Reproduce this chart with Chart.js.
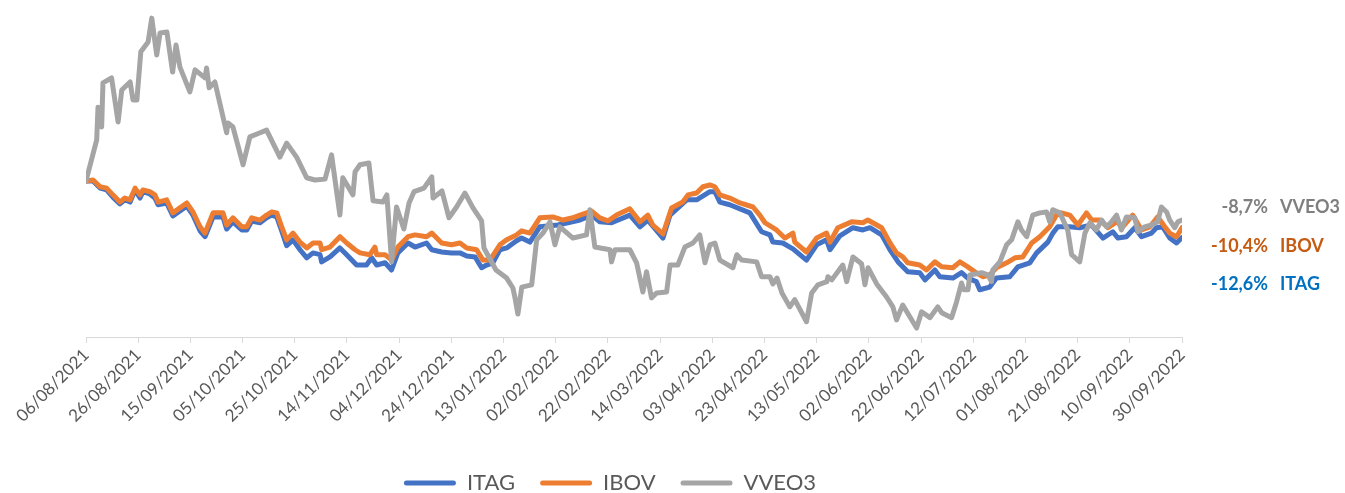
<!DOCTYPE html>
<html>
<head>
<meta charset="utf-8">
<script src="https://cdn.jsdelivr.net/npm/chart.js@4.4.1/dist/chart.umd.min.js"></script>
<style>
  html, body { margin: 0; padding: 0; background: #fff; }
  #wrap { width: 1345px; height: 493px; }
</style>
</head>
<body>
<div id="wrap"><canvas id="chart" width="1345" height="493"></canvas></div>
<script>
// x tick labels, one every 20 calendar days from 06/08/2021
const tickLabels = ["06/08/2021","26/08/2021","15/09/2021","05/10/2021","25/10/2021","14/11/2021",
  "04/12/2021","24/12/2021","13/01/2022","02/02/2022","22/02/2022","14/03/2022","03/04/2022",
  "23/04/2022","13/05/2022","02/06/2022","22/06/2022","12/07/2022","01/08/2022","21/08/2022",
  "10/09/2022","30/09/2022"];

const seriesNames = ["ITAG", "IBOV", "VVEO3"];

// accumulated return (%); days = calendar days since 06/08/2021
const itagDays = [0,2.7,5.4,7.9,10.3,13,14.9,16.9,18.8,20.7,21.8,24.5,26.4,27.6,30.9,33.3,36,38.6,41,43.7,45.6,48.7,52.5,53.9,56.3,59.7,61.6,63.5,66.7,69.2,71.2,73.1,75,76.9,79.3,82,84.6,87,89.7,90.3,93.5,97.3,99.9,103.7,107.5,109.5,111.4,114.6,117.1,119.5,123.4,126.1,130.5,132.5,136.3,140.1,143.3,145.9,149.1,151.6,153.5,155.9,158.6,161.2,165,166.9,170.1,173.9,180.8,189.3,193.8,196.9,201.4,208.4,212.3,215.3,221.1,223.8,230.2,234,239.1,241,242.9,246.7,254.4,258.9,262.1,263.2,267,270.9,276.1,280,283.8,285.1,288.9,293.9,297.7,300.4,304.9,308.1,311.2,314.9,319.5,321.5,325.3,327.2,332.2,335.5,337.9,341.2,342.5,346.3,348.9,354,357.1,361.7,364.3,368.6,370.5,372.4,377,380.8,385.3,389.7,393.5,395.4,398.7,401.9,404.5,408.3,410.2,412.6,415.3,417.9,420];
const itagVals = [0,0,-1.6,-2,-3.6,-5.1,-4.2,-4.7,-2,-3.8,-2.4,-2.9,-3.8,-5.3,-4.9,-7.8,-6.7,-5.6,-7.6,-11.1,-12.4,-8,-8,-10.7,-9.1,-10.9,-10.9,-8.9,-9.3,-8.2,-7.6,-8,-11.1,-14.4,-13.1,-15.3,-17.1,-16,-16.4,-18,-16.9,-14.9,-16.4,-18.7,-18.7,-17.1,-18.7,-18.2,-19.8,-16,-13.8,-14.7,-13.8,-15.3,-15.8,-16,-16,-16.7,-16.9,-19.3,-18.7,-18.2,-15.3,-14.9,-13.3,-12.7,-13.6,-10.2,-9.8,-8.7,-7.6,-9.1,-9.3,-7.6,-10.2,-8.7,-12.7,-7.6,-4.2,-4.2,-2.4,-2.4,-4.7,-5.3,-7.1,-11.3,-12,-13.6,-13.8,-15.1,-17.6,-14.2,-13.1,-15.3,-12.2,-10.4,-10.9,-10.4,-12,-15.3,-18,-20.2,-20.4,-22,-19.8,-21.3,-21.6,-20.4,-21.6,-22.4,-24.2,-23.6,-21.6,-21.3,-19.1,-18.2,-16,-13.6,-11.6,-10.2,-10.2,-10.4,-9.8,-12.7,-11.3,-12.7,-12.4,-10.4,-12.4,-11.6,-10.4,-10.2,-12.7,-13.8,-12.6];

const ibovDays = [0,2.7,5.4,7.9,10.3,13,14.9,16.9,18.8,20.7,21.8,24.5,26.4,27.6,30.9,33.3,36,38.6,41,43.7,45.6,48.7,52.5,53.9,56.3,59.7,61.6,63.5,66.7,69.2,71.2,73.1,75,76.9,79.3,82,84.6,87,89.7,90.3,93.5,97.3,99.9,103.1,105,108.8,110.7,111.4,114.6,117.1,119.5,123.4,126.1,130.5,132.5,136.3,140.1,143.3,145.9,149.7,152.1,154.8,158.6,161.2,165,166.9,170.1,173.9,178.9,182.8,186.6,189.3,193.8,196.9,200,203.3,208.4,212.3,215.3,217.2,221.1,224.4,228.7,230.7,234,236.4,239.1,241,242.9,246.7,250.6,255.6,258.2,260.2,264.6,267.8,270.9,271.6,276.1,280,283.8,285.1,288.1,293.4,297.7,299.6,304.9,308.1,310.6,313,314.9,319.5,322.1,325.3,327.9,332.2,334.9,337.9,340.6,343.7,346.3,348.9,352.8,356,359,362.4,365.5,369.3,371.9,373.8,377,380.1,383.4,385.4,388.5,391.6,394.9,397.3,401.1,404.5,407.7,410.7,413.4,415.3,417.9,420];
const ibovVals = [0,0.2,-1.3,-1.6,-3.1,-4.7,-3.8,-4.2,-1.6,-3.1,-2,-2.4,-3.1,-4.7,-4.2,-7.1,-6,-4.9,-6.9,-10.2,-11.6,-7.1,-7.1,-9.8,-8.2,-10.2,-10.2,-8.2,-8.7,-7.6,-6.9,-7.1,-10.2,-13.1,-11.6,-13.6,-14.9,-13.8,-13.8,-15.3,-14.7,-12.4,-13.8,-15.3,-16,-16.4,-14.7,-16.4,-16.4,-17.6,-14.7,-12.4,-12,-12.4,-11.6,-13.8,-14.2,-13.8,-14.9,-15.3,-17.6,-17.6,-14.2,-13.1,-12,-11.1,-11.6,-8.2,-8,-8.7,-8.2,-7.6,-6.7,-8.2,-8.9,-7.6,-6.2,-9.1,-7.6,-9.8,-11.8,-6,-4.7,-3.1,-2.7,-1.3,-0.9,-1.3,-3.1,-3.8,-4.9,-5.8,-7.6,-9.3,-10.9,-12.7,-11.6,-13.6,-15.8,-12.7,-11.6,-13.6,-10.4,-9.1,-9.3,-8.7,-10.4,-13.8,-16,-16.9,-18.2,-18.7,-19.8,-18,-19.1,-19.3,-18,-19.1,-20.2,-21.3,-20.9,-19.3,-18.2,-17.1,-16.9,-13.8,-12.4,-10.2,-7.6,-7.1,-7.6,-9.8,-7.1,-8.7,-8.7,-10.4,-9.1,-10.2,-7.6,-10.9,-10.2,-8,-10.2,-11.6,-12.4,-10.4];

const vveoDays = [0,4.1,4.6,6,6.5,9.8,12.3,13.7,16.9,18,19.5,21,23.8,25.2,27.1,28.4,31,33.2,34.5,36,39.8,41.8,45.6,46.2,47.2,49.4,53.9,54.4,56.3,60.2,62.8,66.7,69.2,74.3,76.9,80.7,84.6,87.7,91.6,94.1,97.3,98.4,102.3,103.1,105,108.4,110,113.8,115.3,117.1,119,121.8,123.8,125.7,129.5,132.5,133,136.4,139.1,142,145.2,148.3,151.6,152.5,157.1,161.2,163.6,164.4,165.5,167,170.8,172.7,175.1,177.8,179.7,181.6,186.6,191.8,193.1,195,200.8,201.4,202.7,208.4,211,213.4,214.8,216.7,218.7,222.5,223.8,226.8,229.5,232.6,235.2,237.2,239.1,241,242.9,247.9,249.4,251.3,257,258.9,262.1,263.2,264.8,266.7,269.7,271.6,276.1,278.1,280.5,283.9,284.3,285.8,290,291.5,293.9,297.2,298.5,299.7,303,306.8,309.2,310.6,313,315.7,318.3,320.2,323.4,326.4,327.9,331.7,333.6,335.5,336.4,338,338.7,343.2,345.6,347,347.5,350.2,352.8,354.7,357.1,358.5,360.5,362.8,365.5,368.1,369.3,370.5,373.2,376.2,377.7,380.8,382.8,384.7,387.2,389.2,391.1,393,394.9,396.8,398.7,401.9,403.1,405.7,408.3,410.7,412.1,414.1,415.3,417.2,418.4,420];
const vveoVals = [0,9.1,16.4,12,21.8,22.9,13.1,20.2,22,18,18,28.7,30.9,36.2,28,32.9,33.1,24.2,30.2,25.3,19.8,24.7,22.9,25.1,20.7,22,10.7,12.9,12,3.6,9.8,10.7,11.3,5.3,8.4,5.3,0.7,0.2,0.4,5.8,-7.6,0.7,-3.1,2,3.6,4,-4.4,-4.7,-3.1,-18,-5.8,-10.7,-4.9,-2.4,-1.6,0.9,-3.8,-2.2,-8.2,-5.8,-2.7,-6,-8.9,-14.9,-19.8,-21.6,-23.8,-26,-29.6,-23.6,-23.1,-13.1,-11.6,-9.1,-14.2,-10.2,-12.7,-12,-6.4,-14.7,-15.3,-18,-15.3,-15.3,-18.2,-24.7,-20.2,-26,-24.9,-24.7,-18.7,-18.7,-14.7,-13.8,-12,-18.2,-14.2,-13.8,-17.6,-19.3,-16.4,-17.6,-18,-21.3,-21.3,-22.9,-21.6,-24.9,-28,-26.4,-31.3,-24.9,-23.1,-22.4,-21.3,-22,-18.7,-22.4,-16.9,-18.4,-23.1,-19.3,-22.9,-25.8,-28,-30.9,-27.6,-30.2,-32.7,-29.1,-30.4,-28,-29.3,-30.4,-26.9,-22.7,-24.2,-24.2,-20.9,-20.4,-20.9,-22.4,-19.8,-18,-14.2,-13.1,-9.1,-10.9,-12.4,-7.6,-7.1,-6.9,-9.1,-6.4,-7.1,-10.9,-16.4,-18,-11.6,-9.3,-10.9,-8.7,-10.2,-9.1,-7.6,-10.9,-8,-8.2,-11.3,-10.2,-9.8,-9.1,-5.8,-6.9,-8.7,-10.4,-9.1,-8.7];

const colors = ["#4472C4", "#ED7D31", "#A5A5A5"];
const labelColors = ["#0070C0", "#C55A11", "#7F7F7F"];
const FONT = "Lato, 'Noto Sans', sans-serif";

const toPoints = (days, vals) => days.map((d, i) => ({ x: d, y: vals[i] }));
const allDays = [itagDays, ibovDays, vveoDays];
const allVals = [itagVals, ibovVals, vveoVals];

const datasets = seriesNames.map((name, i) => ({
  label: name,
  data: toPoints(allDays[i], allVals[i]),
  borderColor: colors[i],
  backgroundColor: colors[i],
  borderWidth: 5,
  pointRadius: 0,
  tension: 0,
  borderJoinStyle: "round",
  borderCapStyle: "round",
  order: 3 - i   // gray on top, like the original
}));

// labels on the right: last value + series name
const endLabelPos = [-22.9, -14.4, -5.8];
const endLabels = {
  id: "endLabels",
  afterDraw(chart) {
    const ctx = chart.ctx;
    const right = chart.chartArea.right;
    ctx.save();
    ctx.font = "bold 18px " + FONT;
    ctx.textBaseline = "middle";
    seriesNames.forEach((name, i) => {
      const vals = allVals[i];
      const last = vals[vals.length - 1];
      const txt = last.toFixed(1).replace(".", ",") + "%";
      const y = chart.scales.y.getPixelForValue(endLabelPos[i]);
      ctx.fillStyle = labelColors[i];
      ctx.textAlign = "right";
      ctx.fillText(txt, right + 86, y);
      ctx.textAlign = "left";
      ctx.fillText(name, right + 98, y);
    });
    ctx.restore();
  }
};

// move the legend down and a little left, like the original
const legendShift = {
  id: "legendShift",
  afterLayout(chart) {
    const lg = chart.legend;
    lg.top += 11;
    lg.bottom += 11;
    lg.left -= 24;
    lg.right -= 24;
  }
};

new Chart(document.getElementById("chart"), {
  type: "line",
  data: { datasets },
  plugins: [endLabels, legendShift],
  options: {
    responsive: false,
    animation: false,
    layout: { padding: { left: 86, right: 163, top: 10, bottom: 0 } },
    scales: {
      x: {
        type: "linear",
        min: 0,
        max: 420,
        afterFit: s => { s.height = 99; },
        grid: { drawOnChartArea: false, drawTicks: true, tickLength: 6, color: "#D9D9D9" },
        border: { color: "#D9D9D9", width: 1 },
        ticks: {
          stepSize: 20,
          autoSkip: false,
          maxRotation: 45,
          minRotation: 45,
          color: "#595959",
          padding: 2,
          font: { family: FONT, size: 17 },
          callback: v => tickLabels[Math.round(v / 20)]
        }
      },
      y: { display: false, min: -34.7, max: 38 }
    },
    plugins: {
      tooltip: { enabled: false },
      legend: {
        position: "bottom",
        labels: {
          color: "#595959",
          font: { family: FONT, size: 22 },
          boxWidth: 52,
          boxHeight: 5,
          padding: 25,
          useBorderRadius: true,
          borderRadius: 2.5,
          sort: (a, b) => a.datasetIndex - b.datasetIndex,
          generateLabels: chart =>
            Chart.defaults.plugins.legend.labels.generateLabels(chart).map(l => ({ ...l, lineWidth: 0 }))
        }
      }
    }
  }
});
</script>
</body>
</html>
